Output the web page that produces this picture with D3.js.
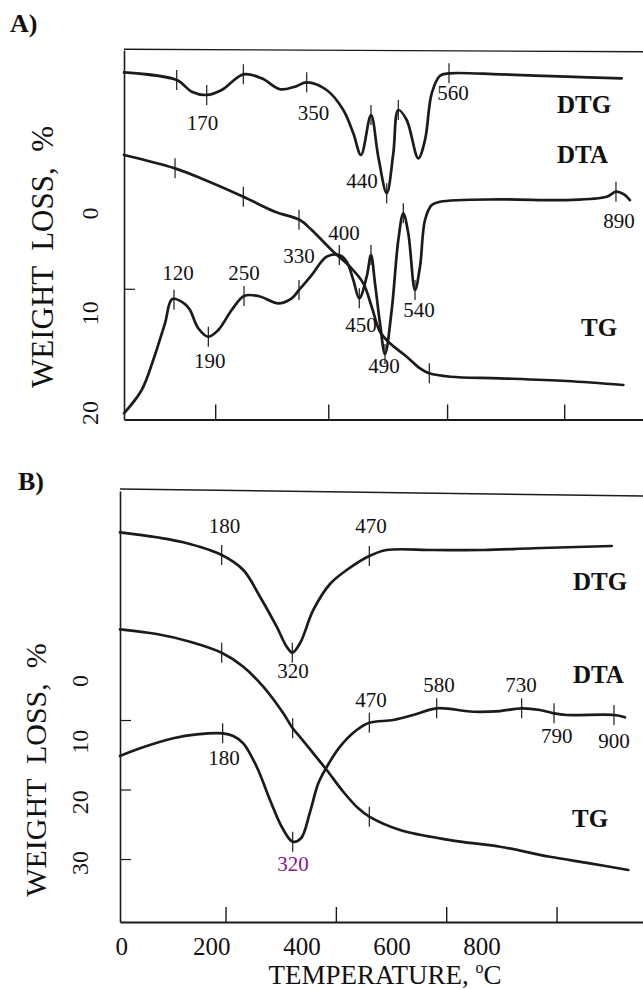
<!DOCTYPE html>
<html><head><meta charset="utf-8">
<script src="https://cdn.jsdelivr.net/npm/d3@7"></script>
<style>
body{margin:0;background:#fff;}
svg{display:block;font-family:"Liberation Serif","Times New Roman",serif;}
</style></head><body>
<svg id="chart" width="643" height="989"></svg>
<script>
// ---------- Panel A data: [temperature (°C), value on weight-loss axis] ----------
const dtgA = [[33.1,-14.11],[124.9,-13.34],[151,-12.17],[177.2,-11.84],[203.3,-12.34],[241,-13.91],[273,-13.51],[304.9,-12.41],[331,-12.67],[351.4,-13.11],[386.2,-12.34],[415.2,-10.33],[432.6,-7.99],[446,-5.82],[463.4,-9.83],[476.1,-5.65],[490.8,-1.98],[502.3,-5.99],[511,-10.33],[525.6,-9.33],[545.8,-5.49],[557.5,-7.32],[569.2,-12.01],[583.6,-13.77],[599.3,-14.01],[688.2,-13.91],[804.4,-13.67],[900.2,-13.51]];
const dtaA = [[33.1,20.09],[63.9,17.75],[84.1,14.74],[104.5,11.06],[117.2,8.63],[139.4,9.13],[148.1,9.73],[162.5,11.56],[180,12.41],[197.4,11.74],[220.7,9.73],[242.2,8.32],[267.1,8.32],[301.9,9.06],[325.3,8.56],[338,7.72],[360.1,6.22],[386.2,4.38],[408.2,4.21],[421.1,4.88],[432.6,6.72],[443,8.56],[455.9,6.39],[463.4,4.21],[470.4,7.05],[479.1,11.06],[487.8,14.14],[499.5,9.73],[511,2.71],[519.7,0.03],[528.4,2.04],[540.1,7.72],[548.8,5.39],[557.5,0.70],[569.2,-0.80],[583.6,-1.13],[688.2,-1.37],[804.4,-1.30],[874,-1.63],[890.2,-2.14],[903,-1.91],[914.6,-1.30]];
const tgA = [[33.1,-5.82],[122,-4.48],[174.2,-3.31],[241,-1.63],[296.2,-0.13],[339.7,0.70],[360.1,1.71],[397.7,3.88],[426.8,5.39],[450,7.05],[464.6,9.40],[479.1,11.91],[496.5,13.07],[525.6,14.41],[548.8,15.58],[565,16.08],[601.9,16.42],[688.2,16.58],[804.4,16.85],[903,17.25]];
const marksDtgA = [124.9,177.2,241,351.4,463.4,490.8,511,599.3];
const marksDtaA = [120.2,180,242.2,338,408.2,443,463.4,487.8,519.7,540.1,890.2];
const marksTgA = [122,241,338,565];
const labelsA = [["170",169.9,-8.32],["350",363.2,-9.33],["560",606.3,-11.33],["440",447.7,-2.51],["120",127.2,6.72],["190",182.4,15.55],["250",242.2,6.72],["330",338,5.02],["400",416.4,2.71],["450",446,11.91],["490",486.1,16.05],["540",547,10.40],["890",895.5,1.53]];
const namesA = [["DTG",787.5,-10.03],["DTA",787.5,-5.02],["TG",829.3,12.34]];
const xTicksA = [192,389,596,800];
const yTicksA = [7.6];
const yLabelsA = [0,10,20];

// ---------- Panel B data ----------
const dtgB = [[8.7,-17.01],[75.2,-16.29],[123.4,-15.57],[193,-13.74],[232.2,-11.58],[262.5,-7.74],[292.7,-3.42],[310.9,-0.55],[321,0.32],[335,-1.04],[359.1,-5.83],[389.3,-9.57],[419.6,-11.58],[460.6,-13.60],[492.1,-14.46],[576.6,-14.46],[667.2,-14.46],[757.8,-14.71],[900,-15.04]];
const tgB = [[8.7,-3.05],[75.2,-2.37],[135.6,-1.27],[193,0.32],[232.2,2.33],[268.4,5.21],[304.7,9.04],[321.7,11.19],[334.9,12.41],[359.1,14.79],[383.4,17.19],[413.4,20.32],[440.6,22.71],[460.6,23.91],[516.2,25.83],[606.9,27.27],[697.5,28.23],[788.1,29.67],[860.6,30.62],[930,31.58]];
const dtaB = [[8.7,15.18],[45,14.07],[105.3,12.63],[147.7,12.06],[194.8,11.91],[214.1,12.30],[232.2,13.35],[256.5,16.72],[280.6,21.51],[301.8,25.35],[321.7,27.51],[336.8,27.01],[353.1,23.24],[367.6,19.21],[380.3,17.19],[407.5,13.84],[437.7,11.44],[460.6,10.39],[504.1,10.00],[540.3,9.28],[582.7,8.32],[649.1,8.81],[697.5,8.71],[736.8,8.32],[770,8.56],[795.4,9.04],[818.4,9.28],[904.1,9.28],[924,9.61]];
const marksDtgB = [193,321,460.6];
const marksTgB = [193,321.7,460.6];
const marksDtaB = [194.8,321.7,460.6,582.7,736.8,795.4,904.1];
const labelsB = [["180",198.1,-16.91],["320",322.3,3.96],["470",463.7,-16.91],["180",197.2,16.47],["470",463.7,8.09],["580",586.9,5.93],["730",735.5,5.93],["790",800.3,13.35],["900",904.1,14.07]];
const labelsBHighlight = [["320",322.3,31.73]];
const namesB = [["DTG",829.8,-8.71],["DTA",829.8,4.68],["TG",828,25.35]];
const xTicksB = [200,400,600,800];
const xLabelsB = [0,200,400,600,800];
const yTicksB = [10,20,30];
const yLabelsB = [0,10,20,30];

// ---------- rendering ----------
const INK = "#1b1b1b";
const svg = d3.select("#chart");

function valueAt(data, t){
  for (let i=0;i<data.length-1;i++){
    const a=data[i], b=data[i+1];
    if (t>=a[0] && t<=b[0]) return a[1] + (b[1]-a[1])*(t-a[0])/(b[0]-a[0]);
  }
  return data[data.length-1][1];
}

function drawPanel(cfg){
  const g = svg.append("g");
  const x = d3.scaleLinear().domain(cfg.xDomain).range([cfg.left, cfg.right]);
  const y = d3.scaleLinear().domain(cfg.yDomain).range([cfg.top, cfg.bottom]);

  // top frame line (slightly skewed as in the scanned original)
  g.append("line").attr("x1",cfg.left).attr("x2",cfg.right)
    .attr("y1",cfg.top+cfg.skew[0]).attr("y2",cfg.top+cfg.skew[1])
    .attr("stroke",INK).attr("stroke-width",1.4);

  // bottom axis (ticks pointing inward, no labels)
  const ax = g.append("g").attr("transform",`translate(0,${cfg.bottom})`)
    .call(d3.axisBottom(x).tickValues(cfg.xTicks).tickSize(-15).tickSizeOuter(0).tickFormat(""));
  ax.select(".domain").attr("stroke",INK).attr("stroke-width",1.8);
  ax.selectAll(".tick line").attr("stroke",INK).attr("stroke-width",1.4);

  // left axis
  const ay = g.append("g").attr("transform",`translate(${cfg.left},0)`)
    .call(d3.axisLeft(y).tickValues(cfg.yTicks).tickSize(-11).tickSizeOuter(0).tickFormat(""));
  ay.select(".domain").attr("stroke",INK).attr("stroke-width",1.6);
  ay.selectAll(".tick line").attr("stroke",INK).attr("stroke-width",1.2);

  // rotated y tick labels
  const yl = cfg.yLabelScale || y;
  const ayl = g.append("g").attr("transform",`translate(${cfg.left},0)`)
    .call(d3.axisLeft(yl).tickValues(cfg.yLabels).tickSize(0).tickFormat(d3.format("d")));
  ayl.select(".domain").remove();
  ayl.selectAll("text").attr("transform","rotate(-90)")
    .attr("x",0).attr("y",-cfg.yLabelOffset).attr("dy",0)
    .attr("text-anchor","middle").attr("font-size",24)
    .attr("font-family","Liberation Serif, serif").attr("fill","#111");

  // curves
  const line = d3.line().x(d=>x(d[0])).y(d=>y(d[1])).curve(d3.curveCatmullRom.alpha(0.5));
  cfg.curves.forEach(c=>{
    g.append("path").datum(c.data).attr("d",line)
      .attr("fill","none").attr("stroke",INK).attr("stroke-width",2.7)
      .attr("stroke-linejoin","round").attr("stroke-linecap","round");
    g.selectAll(null).data(c.marks).enter().append("line")
      .attr("x1",t=>x(t)).attr("x2",t=>x(t))
      .attr("y1",t=>y(valueAt(c.data,t))-10).attr("y2",t=>y(valueAt(c.data,t))+10)
      .attr("stroke",INK).attr("stroke-width",1.2);
  });

  // peak annotations
  g.selectAll(null).data(cfg.labels).enter().append("text")
    .attr("x",d=>x(d[1])).attr("y",d=>y(d[2]))
    .attr("text-anchor","middle").attr("font-size",21).attr("fill","#111")
    .text(d=>d[0]);
  if (cfg.highlight){
    g.selectAll(null).data(cfg.highlight).enter().append("text")
      .attr("x",d=>x(d[1])).attr("y",d=>y(d[2]))
      .attr("text-anchor","middle").attr("font-size",21).attr("fill","#8a168a")
      .text(d=>d[0]);
  }
  // curve names
  g.selectAll(null).data(cfg.names).enter().append("text")
    .attr("x",d=>x(d[1])).attr("y",d=>y(d[2]))
    .attr("font-size",25).attr("font-weight","bold").attr("fill","#111")
    .text(d=>d[0]);

  // panel letter
  g.append("text").attr("x",cfg.letterPos[0]).attr("y",cfg.letterPos[1])
    .attr("font-size",26).attr("font-weight","bold").attr("fill","#111").text(cfg.letter);

  // y title
  g.append("text").attr("transform",`translate(${cfg.titleX},${cfg.titleY}) rotate(-90)`)
    .attr("text-anchor","middle").attr("font-size",cfg.titleSize).attr("fill","#111")
    .style("white-space","pre").text("WEIGHT  LOSS,  %");
  return {x,y,g};
}

drawPanel({
  letter:"A)", letterPos:[10,32],
  left:124, right:643, top:50, bottom:419.5, skew:[-0.7,1.7],
  xDomain:[33.1,937.3], yDomain:[-16.35,20.71],
  xTicks:xTicksA, yTicks:yTicksA, yLabels:yLabelsA, yLabelOffset:26,
  titleX:53, titleY:257, titleSize:31,
  curves:[{data:dtgA,marks:marksDtgA},{data:dtaA,marks:marksDtaA},{data:tgA,marks:marksTgA}],
  labels:labelsA, names:namesA
});

drawPanel({
  letter:"B)", letterPos:[18,490],
  left:120, right:643, top:491, bottom:922, skew:[-2,5],
  xDomain:[8.7,956.7], yDomain:[-22.95,39.06],
  xTicks:xTicksB, yTicks:yTicksB, yLabels:yLabelsB, yLabelOffset:32,
  yLabelScale:d3.scaleLinear().domain([0,30]).range([680.6,862.4]),
  titleX:46, titleY:770, titleSize:30,
  curves:[{data:dtgB,marks:marksDtgB},{data:tgB,marks:marksTgB},{data:dtaB,marks:marksDtaB}],
  labels:labelsB, highlight:labelsBHighlight, names:namesB
});

// x tick labels for panel B (printed positions on the original)
const xLab = d3.scaleLinear().domain([0,800]).range([121.2,481.6]);
const axl = svg.append("g").attr("transform","translate(0,922)")
  .call(d3.axisBottom(xLab).tickValues(xLabelsB).tickSize(0).tickFormat(d3.format("d")));
axl.select(".domain").remove();
axl.selectAll("text").attr("y",33).attr("dy",0).attr("font-size",25)
  .attr("font-family","Liberation Serif, serif").attr("fill","#111");

// x title
const xt = svg.append("text").attr("x",385).attr("y",984).attr("text-anchor","middle")
  .attr("font-size",27).attr("fill","#111");
xt.append("tspan").text("TEMPERATURE, ");
xt.append("tspan").attr("font-size",16).attr("dy",-11).text("o");
xt.append("tspan").attr("dy",11).text("C");
</script>
</body></html>
